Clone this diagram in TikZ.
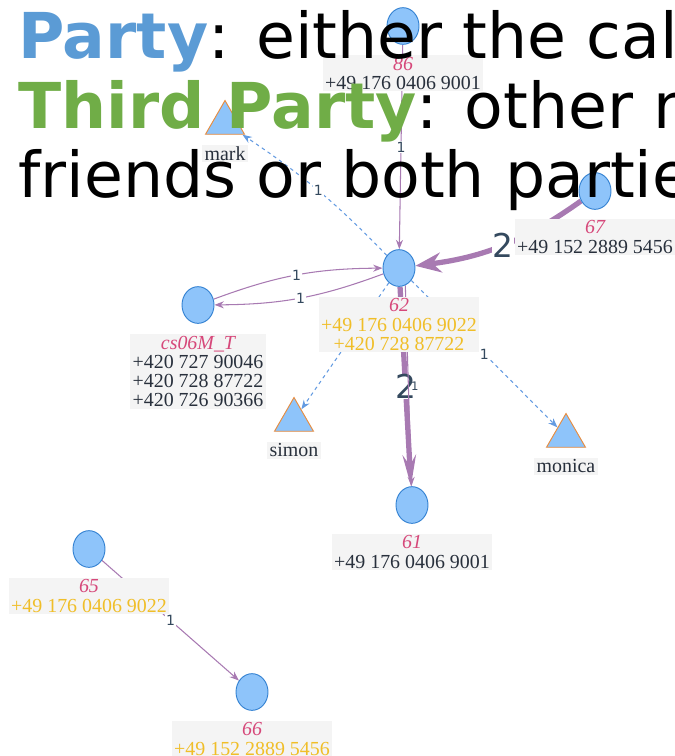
\documentclass[tikz,border=0pt]{standalone}
\usepackage{fontspec}
\usepackage{tikz}
\usetikzlibrary{shapes.geometric,arrows.meta,positioning,backgrounds}
\newfontfamily\headfont{DejaVu Sans}
\newfontfamily\graphfont{Liberation Serif}
\definecolor{partyblue}{RGB}{91,155,213}
\definecolor{thirdgreen}{RGB}{112,173,71}
\definecolor{nodefill}{RGB}{142,196,250}
\definecolor{nodeblue}{RGB}{52,130,210}
\definecolor{triorange}{RGB}{232,140,62}
\definecolor{callpurple}{RGB}{168,122,178}
\definecolor{linkblue}{RGB}{100,155,225}
\definecolor{idpink}{RGB}{214,72,122}
\definecolor{numyellow}{RGB}{240,190,40}
\definecolor{labeltext}{RGB}{40,48,60}
\definecolor{boxgray}{RGB}{244,244,244}
\definecolor{edgeslate}{RGB}{52,73,94}

\begin{document}
\begin{tikzpicture}[
    x=0.03cm, y=-0.03cm,
    party/.style={ellipse, minimum width=0.96cm, minimum height=1.1cm, inner sep=0pt, draw=nodeblue, fill=nodefill, line width=0.8pt},
    thirdparty/.style={regular polygon, regular polygon sides=3, minimum size=1.35cm, inner sep=0pt, draw=triorange, fill=nodefill, line width=0.8pt},
    infobox/.style={fill=boxgray, inner xsep=2pt, inner ysep=1.5pt, align=center, text=labeltext, font=\graphfont\fontsize{17}{16.4}\selectfont},
    call/.style={-{Stealth[length=8pt,width=6pt]}, draw=callpurple, line width=0.9pt},
    heavycall/.style={-{Stealth[length=22pt,width=17pt]}, draw=callpurple, line width=4.5pt},
    longcall/.style={-{Stealth[length=26pt,width=11pt]}, draw=callpurple, line width=4.5pt},
    link/.style={-{Stealth[length=8pt,width=6pt]}, draw=linkblue, dashed, line width=0.9pt},
    elbl/.style={font=\headfont\fontsize{12}{12}\selectfont, text=edgeslate, fill=white, inner sep=1pt},
    biglbl/.style={font=\headfont\fontsize{28}{28}\selectfont, text=edgeslate, fill=white, inner sep=0.5pt},
    head/.style={anchor=base west, inner sep=0pt, font=\headfont\fontsize{54}{54}\selectfont}
]
\useasboundingbox (0,0) rectangle (675,756);
\clip (0,0) rectangle (675,756);

% Parties
\node[party] (n86) at (403,26) {};
\node[infobox, below=0.3cm of n86] (n86info) {{\color{idpink}\itshape 86}\\+49 176 0406 9001};
\node[party] (n62) at (399,268) {};
\node[infobox, below=0.3cm of n62, text=numyellow] (n62info) {{\color{idpink}\itshape 62}\\+49 176 0406 9022\\+420 728 87722};
\node[party] (cs06) at (198,305) {};
\node[infobox, below=0.3cm of cs06] (cs06info) {{\color{idpink}\itshape cs06M\_T}\\+420 727 90046\\+420 728 87722\\+420 726 90366};
\node[party] (n67) at (595,191) {};
\node[infobox, below=0.27cm of n67] (n67info) {{\color{idpink}\itshape 67}\\+49 152 2889 5456};
\node[party] (n61) at (412,505) {};
\node[infobox, below=0.3cm of n61] (n61info) {{\color{idpink}\itshape 61}\\+49 176 0406 9001};
\node[party] (n65) at (89,549) {};
\node[infobox, below=0.3cm of n65, text=numyellow] (n65info) {{\color{idpink}\itshape 65}\\+49 176 0406 9022};
\node[party] (n66) at (252,692) {};
\node[infobox, below=0.3cm of n66, text=numyellow] (n66info) {{\color{idpink}\itshape 66}\\+49 152 2889 5456};

% Third parties
\node[thirdparty] (mark) at (225,123) {};
\node[infobox, below=0.3cm of mark] (markinfo) {mark};
\node[thirdparty] (simon) at (294,420) {};
\node[infobox, below=0.3cm of simon] (simoninfo) {simon};
\node[thirdparty] (monica) at (566,436) {};
\node[infobox, below=0.3cm of monica] (monicainfo) {monica};

% Connections
\begin{scope}[on background layer]
\draw[call] (n86) -- (n62) node[elbl, midway] {1};
\draw[link, bend right=6] (n62) to node[elbl] {1} (mark);
\draw[heavycall, bend left=14] (n67) to node[biglbl] {2} (n62);
\draw[call, bend left=10] (cs06) to node[elbl] {1} (n62);
\draw[call, bend left=10] (n62) to node[elbl] {1} (cs06);
\draw[link] (n62) -- (simon);
\draw[link] (n62) -- (monica) node[elbl, midway] {1};
\draw[longcall] (n62) -- (n61) node[biglbl, midway] {2};
\draw[call] (n62.-70) to node[elbl, anchor=west, xshift=1pt, fill=none, font=\headfont\fontsize{10}{10}\selectfont] {1} (n61);
\draw[call] (n65) -- (n66) node[elbl, midway] {1};
\end{scope}

% Heading
\node[head] (line1) at (18,58) {\textcolor{partyblue}{\bfseries Party}: either the cal};
\node[head] (line2) at (18,128) {\textcolor{thirdgreen}{\bfseries Third Party}: other n};
\node[head] (line3) at (18,197) {friends or both partie};
\end{tikzpicture}
\end{document}
